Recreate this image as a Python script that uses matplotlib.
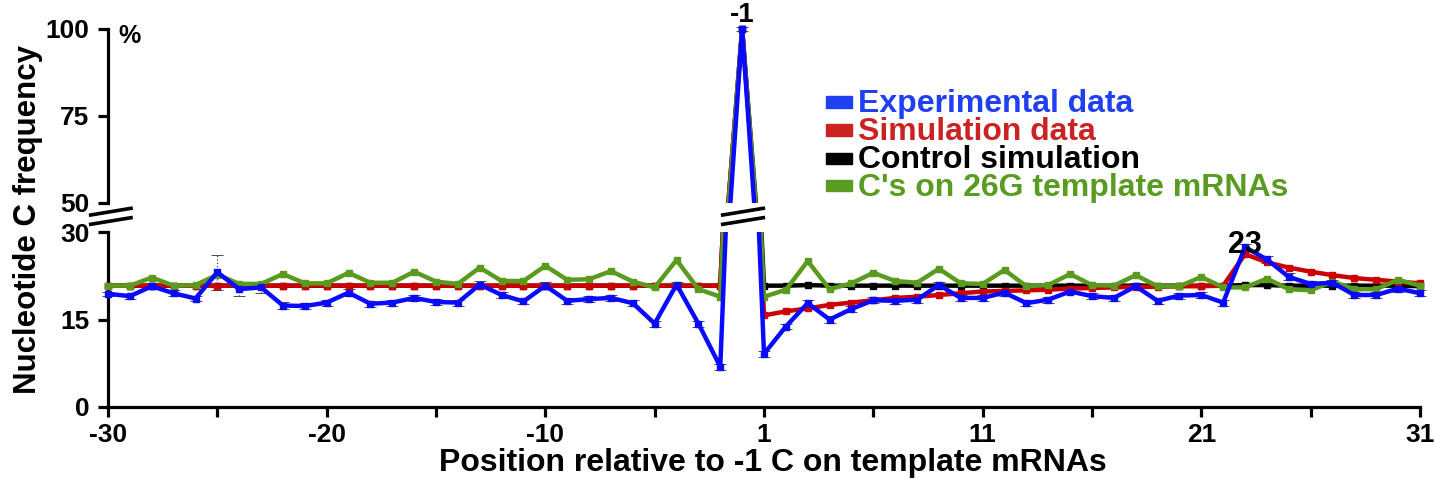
import numpy as np
import matplotlib.pyplot as plt
from matplotlib.lines import Line2D
from matplotlib.patches import Rectangle

plt.rcParams['font.family'] = ['Liberation Sans', 'DejaVu Sans']
plt.rcParams['font.weight'] = 'bold'

# positions -30..-1, 1..31 (there is no position 0)
positions = list(range(-30, 0)) + list(range(1, 32))

experimental = [19.4, 19.0, 20.7, 19.5, 18.6, 23.1, 20.2, 20.5, 17.4, 17.3,
                17.9, 19.6, 17.7, 17.9, 18.7, 18.0, 17.9, 21.0, 19.2, 18.1,
                20.8, 18.2, 18.5, 18.7, 17.8, 14.3, 21.0, 14.3, 6.9, 100.0,
                9.1, 13.8, 17.8, 15.0, 16.8, 18.3, 18.2, 18.4, 20.9, 18.7,
                18.7, 19.6, 17.8, 18.4, 19.8, 19.0, 18.7, 20.7, 18.2, 19.1,
                19.2, 17.9, 27.4, 25.3, 22.3, 21.1, 21.3, 19.2, 19.2, 20.3, 19.5]
experimental_err = [0.4, 0.4, 0.5, 0.5, 0.5, 3.0, 1.2, 1.0, 0.6, 0.5,
                    0.5, 0.6, 0.5, 0.5, 0.5, 0.5, 0.5, 0.6, 0.5, 0.5,
                    0.6, 0.5, 0.5, 0.5, 0.5, 0.5, 0.5, 0.5, 0.5, 0.5,
                    0.5, 0.5, 0.6, 0.6, 0.5, 0.5, 0.5, 0.5, 0.5, 0.5,
                    0.5, 0.5, 0.5, 0.5, 0.5, 0.5, 0.5, 0.5, 0.5, 0.5,
                    0.5, 0.5, 0.5, 0.6, 0.6, 0.5, 0.5, 0.5, 0.5, 0.5, 0.5]
simulation = [20.8, 20.8, 20.8, 20.8, 20.8, 20.8, 20.8, 20.8, 20.8, 20.8,
              20.8, 20.8, 20.8, 20.8, 20.8, 20.8, 20.8, 20.8, 20.8, 20.8,
              20.8, 20.8, 20.8, 20.8, 20.8, 20.8, 20.8, 20.8, 20.8, 100.0,
              15.7, 16.4, 16.9, 17.5, 17.9, 18.3, 18.7, 18.9, 19.2, 19.5,
              19.8, 19.9, 20.0, 20.1, 20.3, 20.4, 20.5, 20.6, 20.6, 20.7,
              20.7, 20.8, 26.2, 24.8, 23.9, 23.2, 22.6, 22.1, 21.8, 21.5, 21.2]
control = [20.8, 20.8, 20.8, 20.8, 20.8, 20.8, 20.8, 20.8, 20.8, 20.8,
           20.8, 20.8, 20.8, 20.8, 20.8, 20.8, 20.8, 20.8, 20.8, 20.8,
           20.8, 20.8, 20.8, 20.8, 20.8, 20.8, 20.8, 20.8, 20.8, 100.0,
           20.8, 20.8, 20.9, 20.8, 20.8, 20.8, 20.8, 20.8, 20.8, 20.8,
           20.8, 20.8, 20.8, 20.8, 20.8, 20.8, 20.8, 20.8, 20.8, 20.8,
           20.8, 20.8, 20.9, 20.9, 20.8, 20.8, 20.8, 20.8, 20.8, 20.8, 20.7]
template_26g = [20.8, 20.8, 22.2, 20.8, 20.9, 22.7, 21.1, 21.1, 22.8, 21.2,
                21.2, 23.0, 21.3, 21.3, 23.2, 21.5, 21.1, 23.9, 21.6, 21.6,
                24.2, 21.8, 21.9, 23.3, 21.5, 20.5, 25.2, 20.2, 18.9, 100.0,
                18.9, 20.1, 25.0, 20.2, 21.2, 23.0, 21.6, 21.3, 23.7, 21.2,
                21.1, 23.5, 20.7, 20.9, 22.8, 20.9, 20.8, 22.6, 20.7, 20.7,
                22.3, 20.5, 20.5, 22.0, 20.2, 20.0, 21.5, 20.2, 20.2, 21.8, 20.8]

series = [
    ("Control simulation", control, "#000000", "#000000"),
    ("Simulation data", simulation, "#cc0000", "#cc2222"),
    ("C's on 26G template mRNAs", template_26g, "#5a9a1e", "#5a9c22"),
    ("Experimental data", experimental, "#0a0aff", "#1f3ff0"),
]
legend_order = ["Experimental data", "Simulation data", "Control simulation",
                "C's on 26G template mRNAs"]

xi = np.arange(len(positions))
tick_idx = xi[::5]
tick_lab = [str(positions[i]) if k % 2 == 0 else "" for k, i in enumerate(tick_idx)]

W, H = 1434, 482
fig = plt.figure(figsize=(W / 100, H / 100), dpi=100)
xl, xr = 99.3, 1428.7


def fax(l, b, r, t):
    return [l / W, 1 - b / H, (r - l) / W, (b - t) / H]


ax_lo = fig.add_axes(fax(xl, 407, xr, 232))
ax_hi = fig.add_axes(fax(xl, 203, xr, 15))

for ax in (ax_lo, ax_hi):
    ax.errorbar(xi, experimental, yerr=experimental_err, fmt="none", ecolor="0.3",
                elinewidth=0.9, capsize=4, capthick=0.7, zorder=1)
    for c in ax.collections:
        c.set_linestyle(":")
    for name, vals, col, _ in series:
        ax.plot(xi, vals, color=col, lw=3.2, marker="s", ms=3.8, zorder=3)
    ax.set_xlim(-0.4, 60.4)
    ax.spines[["top", "right"]].set_visible(False)
    ax.spines["left"].set_position(("data", 0))
    for s in ("left", "bottom"):
        ax.spines[s].set_linewidth(2.3)
    ax.tick_params(width=2.3, length=7.5, labelsize=19)
    ax.tick_params(axis="y", pad=6)

ax_lo.set_ylim(0, 30)
ax_lo.set_yticks([0, 15, 30])
ax_lo.set_xticks(tick_idx)
ax_lo.set_xticklabels(tick_lab)
ax_lo.tick_params(axis="x", pad=4)
ax_lo.spines["bottom"].set_bounds(0, 60)

ax_hi.set_ylim(50, 104)
ax_hi.spines["left"].set_bounds(50, 100)
ax_hi.spines["bottom"].set_visible(False)
ax_hi.set_yticks([50, 75, 100])
ax_hi.set_xticks([])

ax_hi.annotate("-1", xy=(29, 100), xytext=(0, 1), textcoords="offset points",
               ha="center", va="bottom", fontsize=20, fontweight="bold")
ax_lo.text(52, 27.8, "23", ha="center", va="center", fontsize=22, fontweight="bold")
ax_hi.text(0.45, 101.5, "%", ha="left", va="top", fontsize=18, fontweight="bold")

# break marks on the y axis and on the -1 peak
for x0, x1 in ((90.7, 131.0), (722.7, 763.3)):
    for y0, y1 in ((215.0, 208.3), (224.3, 217.7)):
        fig.add_artist(Line2D([x0 / W, x1 / W], [1 - y0 / H, 1 - y1 / H],
                              color="black", lw=2.6, transform=fig.transFigure))

fig.text(28 / W, 1 - 220 / H, "Nucleotide C frequency", rotation=90,
         ha="center", va="center", fontsize=22.5, fontweight="bold")
fig.text(773 / W, 1 - 471 / H, "Position relative to -1 C on template mRNAs",
         ha="center", va="baseline", fontsize=23, fontweight="bold")

# legend, drawn by hand to get the tight row spacing
lookup = {s[0]: s for s in series}
row_centres = [102, 130, 158, 186]
for n, yc in zip(legend_order, row_centres):
    col = lookup[n][3]
    fig.add_artist(Rectangle((826 / W, 1 - (yc + 5.5) / H), 26 / W, 11 / H,
                             color=col, transform=fig.transFigure))
    fig.text(858 / W, 1 - (yc + 10) / H, n, color=col, ha="left", va="baseline",
             fontsize=23, fontweight="bold")

fig.savefig("out.png", dpi=100)
